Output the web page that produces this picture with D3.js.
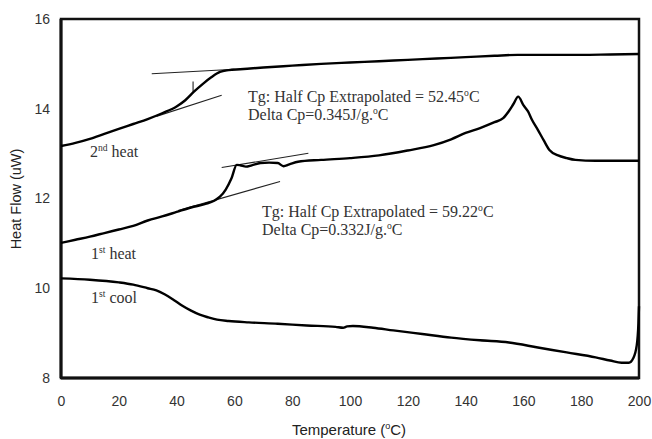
<!DOCTYPE html>
<html>
<head>
<meta charset="utf-8">
<script src="https://cdn.jsdelivr.net/npm/d3@7"></script>
<style>
  html, body { margin: 0; padding: 0; background: #fff; }
  svg { display: block; }
</style>
</head>
<body>
<svg id="chart" width="652" height="439"></svg>
<script>
// DSC thermogram: three scans of heat flow vs temperature
const xTicks = [0, 20, 40, 60, 80, 100, 120, 140, 160, 180, 200];
const yTicks = [8, 10, 12, 14, 16];

const heat2T = [0, 5, 10, 15, 20, 25, 30, 35, 40, 43, 46, 49, 52, 55, 58, 62, 70, 80, 90, 100, 110, 120, 130, 140, 150, 158, 170, 180, 190, 200];
const heat2V = [13.17, 13.24, 13.33, 13.44, 13.55, 13.66, 13.77, 13.9, 14.05, 14.19, 14.38, 14.55, 14.7, 14.82, 14.86, 14.88, 14.92, 14.96, 15.0, 15.03, 15.06, 15.09, 15.12, 15.15, 15.18, 15.2, 15.2, 15.2, 15.21, 15.22];

const heat1T = [0, 5, 10, 15, 20, 25, 30, 35, 40, 45, 50, 53, 55, 57, 59, 60.8, 62, 64, 66, 69, 72, 75, 77, 79, 82, 90, 100, 110, 120, 129, 135, 140, 145, 150, 153, 155, 156.5, 158.2, 160, 161.6, 163, 165, 167, 169, 172, 175, 178, 185, 200];
const heat1V = [11.01, 11.08, 11.15, 11.23, 11.31, 11.39, 11.51, 11.6, 11.7, 11.8, 11.88, 11.95, 12.04, 12.2, 12.45, 12.75, 12.74, 12.71, 12.74, 12.79, 12.8, 12.79, 12.72, 12.76, 12.82, 12.86, 12.9, 12.96, 13.07, 13.19, 13.32, 13.46, 13.57, 13.7, 13.79, 13.95, 14.1, 14.27, 14.08, 13.94, 13.75, 13.53, 13.3, 13.08, 12.96, 12.9, 12.86, 12.84, 12.84];

const coolT = [0, 10, 20, 25, 30, 33, 36, 39, 42, 45, 48, 51, 54, 58, 65, 75, 85, 95, 97.6, 99, 101, 108, 115, 125, 135, 145, 155, 165, 175, 185, 190, 194, 196.5, 198, 199.2, 199.8, 200];
const coolV = [10.22, 10.19, 10.13, 10.08, 10.0, 9.95, 9.86, 9.74, 9.61, 9.5, 9.41, 9.35, 9.3, 9.27, 9.24, 9.21, 9.17, 9.14, 9.12, 9.15, 9.16, 9.12, 9.06, 8.98, 8.9, 8.84, 8.79, 8.68, 8.57, 8.46, 8.39, 8.34, 8.34, 8.44, 8.72, 9.22, 9.6];

// Tangent construction lines used for the Tg evaluation: [[T0, v0], [T1, v1]]
const heat2Tangents = [[[31.4, 14.78], [60, 14.88]], [[33, 13.83], [55.6, 14.30]]];
const heat1Tangents = [[[55.6, 12.69], [85.6, 13.01]], [[40.5, 11.73], [75.8, 12.38]]];
const heat2Marker = [[45.7, 14.61], [45.7, 14.38]];

const margin = {top: 19, right: 13, bottom: 61, left: 61};
const W = 652, H = 439;
const svg = d3.select("#chart");

const x = d3.scaleLinear().domain([0, 200]).range([margin.left, W - margin.right]);
const y = d3.scaleLinear().domain([8, 16]).range([H - margin.bottom, margin.top]);

const sans = "'Liberation Sans', Arial, sans-serif";
const serif = "'Liberation Serif', 'Times New Roman', serif";

// axes (labels only, no tick marks)
const gx = svg.append("g")
  .attr("transform", `translate(0,${y(8)})`)
  .call(d3.axisBottom(x).tickValues(xTicks).tickSize(0).tickPadding(18).tickFormat(d3.format("d")));
const gy = svg.append("g")
  .attr("transform", `translate(${x(0)},0)`)
  .call(d3.axisLeft(y).tickValues(yTicks).tickSize(0).tickPadding(11).tickFormat(d3.format("d")));
[gx, gy].forEach(g => {
  g.select(".domain").remove();
  g.selectAll("text").attr("font-family", sans).attr("font-size", 14).attr("fill", "#333");
});

// plot frame
svg.append("rect")
  .attr("x", x(0)).attr("y", y(16))
  .attr("width", x(200) - x(0)).attr("height", y(8) - y(16))
  .attr("fill", "none").attr("stroke", "#111").attr("stroke-width", 2.5);
svg.append("line").attr("x1", x(0)).attr("x2", x(0)).attr("y1", y(16)).attr("y2", y(8))
  .attr("stroke", "#111").attr("stroke-width", 3);
svg.append("line").attr("x1", x(0)).attr("x2", x(200)).attr("y1", y(8)).attr("y2", y(8))
  .attr("stroke", "#111").attr("stroke-width", 3);

// tangent lines
const thin = [...heat2Tangents, ...heat1Tangents, heat2Marker];
svg.append("g").selectAll("line").data(thin).join("line")
  .attr("x1", d => x(d[0][0])).attr("y1", d => y(d[0][1]))
  .attr("x2", d => x(d[1][0])).attr("y2", d => y(d[1][1]))
  .attr("stroke", "#222").attr("stroke-width", 1.1);

// curves
const line = d3.line().x(d => x(d[0])).y(d => y(d[1])).curve(d3.curveMonotoneX);
const series = [
  d3.zip(heat2T, heat2V),
  d3.zip(heat1T, heat1V),
  d3.zip(coolT, coolV)
];
svg.append("g").selectAll("path").data(series).join("path")
  .attr("d", line)
  .attr("fill", "none").attr("stroke", "#000").attr("stroke-width", 2.4)
  .attr("stroke-linejoin", "round");

// annotation text helpers
function serifText(px, py, parts, size) {
  const t = svg.append("text").attr("x", px).attr("y", py)
    .attr("font-family", serif).attr("font-size", size).attr("fill", "#333");
  parts.forEach(p => {
    const s = t.append("tspan").text(p.t);
    if (p.sup) s.attr("font-size", size * 0.6).attr("dy", -size * 0.38);
    else if (p.after) s.attr("dy", size * 0.38);
  });
  return t;
}

const fs = 16;
serifText(248, 102, [{t: "Tg: Half Cp Extrapolated = 52.45"}, {t: "o", sup: true}, {t: "C", after: true}], fs);
serifText(248, 120, [{t: "Delta Cp=0.345J/g."}, {t: "o", sup: true}, {t: "C", after: true}], fs);
serifText(262, 217, [{t: "Tg: Half Cp Extrapolated = 59.22"}, {t: "o", sup: true}, {t: "C", after: true}], fs);
serifText(262, 235, [{t: "Delta Cp=0.332J/g."}, {t: "o", sup: true}, {t: "C", after: true}], fs);

serifText(90, 157, [{t: "2"}, {t: "nd", sup: true}, {t: " heat", after: true}], fs);
serifText(91, 259, [{t: "1"}, {t: "st", sup: true}, {t: " heat", after: true}], fs);
serifText(91, 303, [{t: "1"}, {t: "st", sup: true}, {t: " cool", after: true}], fs);

// axis titles
const xt = svg.append("text").attr("x", 349).attr("y", 435).attr("text-anchor", "middle")
  .attr("font-family", sans).attr("font-size", 15).attr("fill", "#222");
xt.append("tspan").text("Temperature (");
xt.append("tspan").text("o").attr("font-size", 9).attr("dy", -6);
xt.append("tspan").text("C)").attr("dy", 6);

svg.append("text")
  .attr("transform", `translate(21,199) rotate(-90)`)
  .attr("text-anchor", "middle")
  .attr("font-family", sans).attr("font-size", 14.5).attr("fill", "#222")
  .text("Heat Flow (uW)");
</script>
</body>
</html>
